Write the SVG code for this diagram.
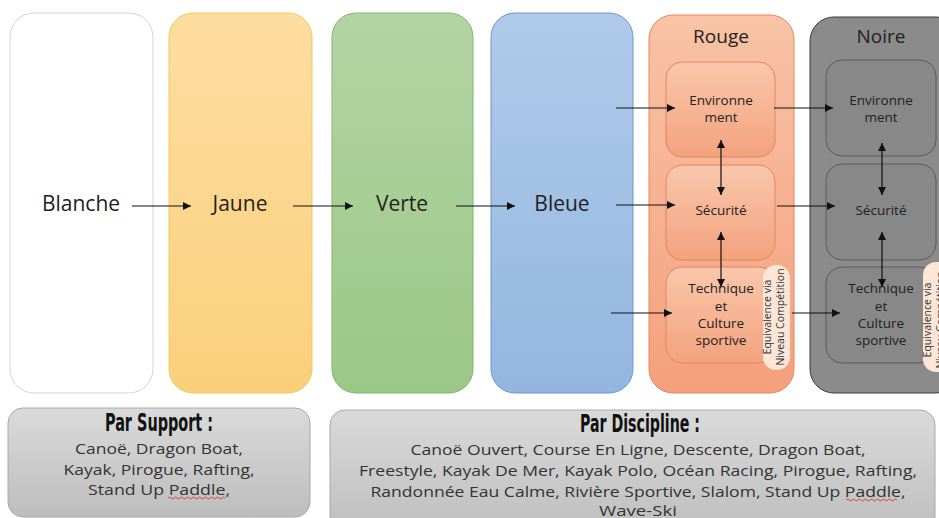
<svg xmlns="http://www.w3.org/2000/svg" width="939" height="518" viewBox="0 0 939 518">
<defs>
<linearGradient id="gJ" x1="0" y1="0" x2="0" y2="1"><stop offset="0" stop-color="#fddda0"/><stop offset="1" stop-color="#fbd07c"/></linearGradient>
<linearGradient id="gV" x1="0" y1="0" x2="0" y2="1"><stop offset="0" stop-color="#b3d4a4"/><stop offset="1" stop-color="#9bc886"/></linearGradient>
<linearGradient id="gB" x1="0" y1="0" x2="0" y2="1"><stop offset="0" stop-color="#b0cbea"/><stop offset="1" stop-color="#93b6e0"/></linearGradient>
<linearGradient id="gR" x1="0" y1="0" x2="0" y2="1"><stop offset="0" stop-color="#f8c3a6"/><stop offset="1" stop-color="#f5a07d"/></linearGradient>
<linearGradient id="gRi" x1="0" y1="0" x2="0" y2="1"><stop offset="0" stop-color="#f9c7ac"/><stop offset="1" stop-color="#f3a27d"/></linearGradient>
<linearGradient id="gG" x1="0" y1="0" x2="0" y2="1"><stop offset="0" stop-color="#dadada"/><stop offset="1" stop-color="#bdbdbd"/></linearGradient>
<marker id="ah" viewBox="0 0 10 10" refX="10" refY="5" markerWidth="8" markerHeight="8" markerUnits="userSpaceOnUse" orient="auto-start-reverse"><path d="M0,0 L10,5 L0,10 z" fill="#111"/></marker>
</defs>
<style>
.lbl{font-family:"Open Sans","Liberation Sans",sans-serif;fill:#222;text-anchor:middle}
.big{font-size:21px}
.ttl{font-size:19px}
.in{font-size:13.5px}
.eq{font-family:"Open Sans","Liberation Sans",sans-serif;font-size:10.5px;fill:#333;text-anchor:middle}
.bt{font-family:"Liberation Sans Narrow","DejaVu Sans Condensed","Liberation Sans",sans-serif;font-weight:bold;font-size:24px;fill:#111;text-anchor:middle}
.bd{font-family:"Open Sans","Liberation Sans",sans-serif;font-size:15px;fill:#333;text-anchor:middle}
.cn{stroke:#111;stroke-width:1.2;fill:none;marker-end:url(#ah)}
.dbl{marker-start:url(#ah)}
.sq{stroke:#d33;stroke-width:0.9;fill:none}
</style>

<g id="blanche"><rect x="10" y="13" width="143" height="380" rx="24" fill="#fff" stroke="#d4d4d4"/><text class="lbl big" x="81" y="211">Blanche</text></g>
<g id="jaune"><rect x="169" y="13" width="143" height="380" rx="24" fill="url(#gJ)" stroke="#f2c860"/><text class="lbl big" x="240" y="211">Jaune</text></g>
<g id="verte"><rect x="332" y="13" width="141" height="380" rx="24" fill="url(#gV)" stroke="#85b56b"/><text class="lbl big" x="402" y="211">Verte</text></g>
<g id="bleue"><rect x="491" y="13" width="142" height="380" rx="24" fill="url(#gB)" stroke="#7196c4"/><text class="lbl big" x="562" y="211">Bleue</text></g>

<g id="rouge"><rect x="649" y="15" width="145" height="378" rx="24" fill="url(#gR)" stroke="#e5855e"/><text class="lbl ttl" x="721" y="43">Rouge</text></g>
<g id="rouge-env"><rect x="666" y="62" width="109" height="95" rx="16" fill="url(#gRi)" stroke="#e48460"/><text class="lbl in" x="721" y="105">Environne</text><text class="lbl in" x="721" y="122">ment</text></g>
<g id="rouge-sec"><rect x="666" y="165" width="109" height="95" rx="16" fill="url(#gRi)" stroke="#e48460"/><text class="lbl in" x="721" y="215">Sécurité</text></g>
<g id="rouge-tech"><rect x="666" y="267" width="109" height="96" rx="16" fill="url(#gRi)" stroke="#e48460"/><text class="lbl in" x="721" y="293">Technique</text><text class="lbl in" x="721" y="311">et</text><text class="lbl in" x="721" y="328">Culture</text><text class="lbl in" x="721" y="345">sportive</text></g>
<g id="rouge-eq"><rect x="763" y="265" width="27" height="105" rx="13" fill="#fbe6d8"/><text class="eq" transform="translate(770.5,317) rotate(-90)">Equivalence via</text><text class="eq" transform="translate(783.5,317) rotate(-90)">Niveau Compétition</text></g>

<g id="noire"><rect x="810" y="17" width="150" height="376" rx="24" fill="#8b8b8b" stroke="#3a3a3a"/><text class="lbl ttl" x="881" y="43">Noire</text></g>
<g id="noire-env"><rect x="826" y="60" width="110" height="96" rx="16" fill="#888" stroke="#5a5a5a"/><text class="lbl in" x="881" y="105">Environne</text><text class="lbl in" x="881" y="122">ment</text></g>
<g id="noire-sec"><rect x="826" y="164" width="110" height="96" rx="16" fill="#888" stroke="#5a5a5a"/><text class="lbl in" x="881" y="215">Sécurité</text></g>
<g id="noire-tech"><rect x="826" y="267" width="110" height="96" rx="16" fill="#888" stroke="#5a5a5a"/><text class="lbl in" x="881" y="293">Technique</text><text class="lbl in" x="881" y="311">et</text><text class="lbl in" x="881" y="328">Culture</text><text class="lbl in" x="881" y="345">sportive</text></g>
<g id="noire-eq"><rect x="923" y="262" width="30" height="110" rx="13" fill="#fbe6d8"/><text class="eq" transform="translate(930.5,320) rotate(-90)">Equivalence via</text><text class="eq" transform="translate(943.5,320) rotate(-90)" fill="#b9a99e">Niveau Compétition</text></g>

<g id="connectors">
<path class="cn" d="M132,206 H191"/>
<path class="cn" d="M293,206 H353"/>
<path class="cn" d="M456,206 H515"/>
<path class="cn" d="M616,108 H675"/>
<path class="cn" d="M616,205 H675"/>
<path class="cn" d="M611,313 H672"/>
<path class="cn" d="M774,108 H833"/>
<path class="cn" d="M777,206 H835"/>
<path class="cn" d="M792,313 H840"/>
<path class="cn dbl" d="M721,140 V195"/>
<path class="cn dbl" d="M721,232 V287"/>
<path class="cn dbl" d="M882,143 V195"/>
<path class="cn dbl" d="M882,232 V287"/>
</g>

<g id="par-support"><rect x="8" y="408" width="302" height="109" rx="15" fill="url(#gG)" stroke="#a8a8a8"/>
<text class="bt" x="159" y="431" textLength="108" lengthAdjust="spacingAndGlyphs">Par Support :</text>
<text class="bd" x="159" y="454" textLength="168" lengthAdjust="spacingAndGlyphs">Canoë, Dragon Boat,</text>
<text class="bd" x="159" y="475" textLength="191" lengthAdjust="spacingAndGlyphs">Kayak, Pirogue, Rafting,</text>
<text class="bd" x="159" y="495" textLength="142" lengthAdjust="spacingAndGlyphs">Stand Up Paddle,</text>
<path class="sq" d="M168,498 q1.5,-2 3,0 t3,0 t3,0 t3,0 t3,0 t3,0 t3,0 t3,0 t3,0 t3,0 t3,0 t3,0 t3,0 t3,0 t3,0 t3,0 t3,0 t3,0 t3,0"/>
</g>
<g id="par-discipline"><rect x="330" y="410" width="605" height="125" rx="15" fill="url(#gG)" stroke="#a8a8a8"/>
<text class="bt" x="640" y="432" textLength="120" lengthAdjust="spacingAndGlyphs">Par Discipline :</text>
<text class="bd" x="638" y="455" textLength="455" lengthAdjust="spacingAndGlyphs">Canoë Ouvert, Course En Ligne, Descente, Dragon Boat,</text>
<text class="bd" x="638" y="476" textLength="558" lengthAdjust="spacingAndGlyphs">Freestyle, Kayak De Mer, Kayak Polo, Océan Racing, Pirogue, Rafting,</text>
<text class="bd" x="638" y="497" textLength="535" lengthAdjust="spacingAndGlyphs">Randonnée Eau Calme, Rivière Sportive, Slalom, Stand Up Paddle,</text>
<text class="bd" x="638" y="516" textLength="78" lengthAdjust="spacingAndGlyphs">Wave-Ski</text>
<path class="sq" d="M846,500 q1.5,-2 3,0 t3,0 t3,0 t3,0 t3,0 t3,0 t3,0 t3,0 t3,0 t3,0 t3,0 t3,0 t3,0 t3,0 t3,0 t3,0 t3,0"/>
</g>
</svg>
